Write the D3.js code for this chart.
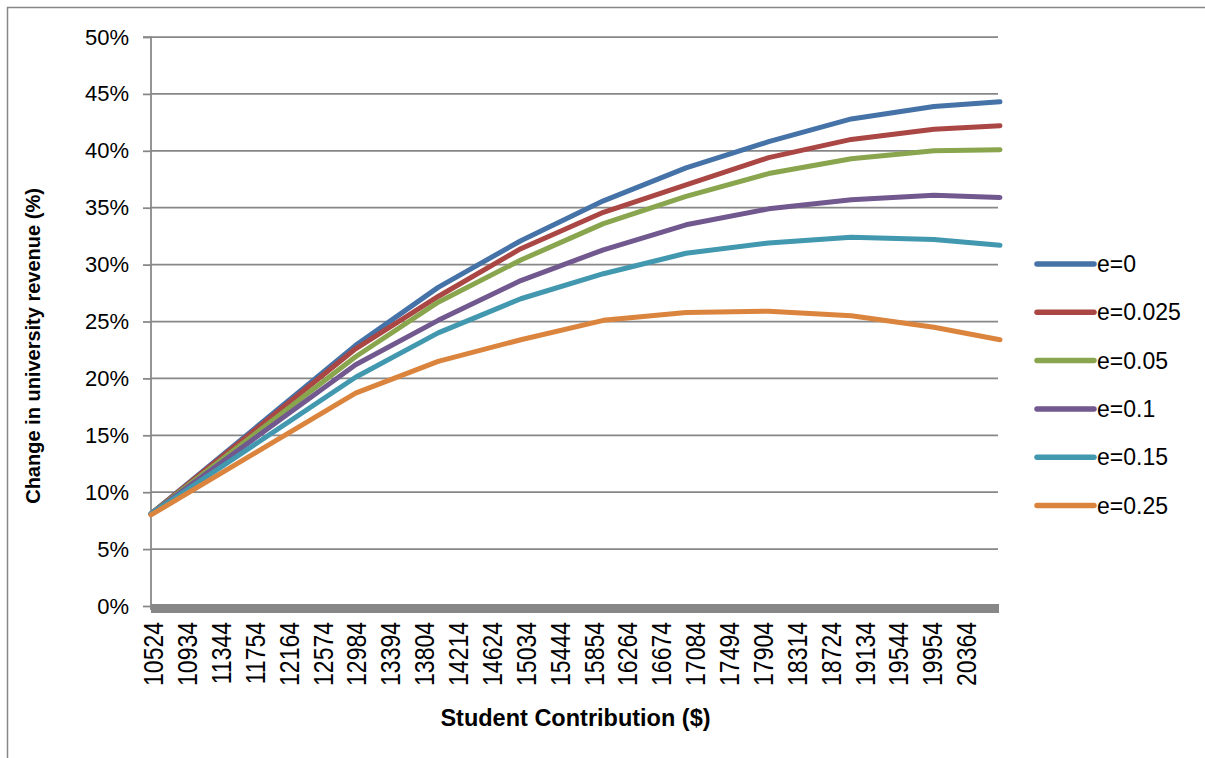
<!DOCTYPE html>
<html>
<head>
<meta charset="utf-8">
<script src="https://cdn.jsdelivr.net/npm/d3@7"></script>
<style>
  html, body { margin: 0; padding: 0; background: #ffffff; }
  svg { display: block; }
  text { font-family: "Liberation Sans", Arial, sans-serif; fill: #000; }
</style>
</head>
<body>
<svg id="chart" width="1205" height="758"></svg>
<script>
// Student contribution ($) at which revenue change was evaluated
const contribution = [10524, 13000, 14000, 15000, 16000, 17000, 18000, 19000, 20000, 20800];

// Change in university revenue (%) for each elasticity value e
const e0    = [8.1, 22.9, 28.0, 32.1, 35.6, 38.5, 40.8, 42.8, 43.9, 44.3];
const e0025 = [8.1, 22.6, 27.2, 31.4, 34.6, 37.0, 39.4, 41.0, 41.9, 42.2];
const e005  = [8.1, 21.9, 26.7, 30.4, 33.6, 36.0, 38.0, 39.3, 40.0, 40.1];
const e01   = [8.1, 21.2, 25.1, 28.6, 31.3, 33.5, 34.9, 35.7, 36.1, 35.9];
const e015  = [8.1, 20.1, 24.0, 27.0, 29.2, 31.0, 31.9, 32.4, 32.2, 31.7];
const e025  = [8.0, 18.7, 21.5, 23.4, 25.1, 25.8, 25.9, 25.5, 24.5, 23.4];

const seriesNames  = ["e=0", "e=0.025", "e=0.05", "e=0.1", "e=0.15", "e=0.25"];
const seriesValues = [e0, e0025, e005, e01, e015, e025];
const seriesColors = ["#4572A7", "#AA4643", "#89A54E", "#71588F", "#4198AF", "#DB843D"];

// Axis tick values
const xTicks = [10524, 10934, 11344, 11754, 12164, 12574, 12984, 13394, 13804, 14214,
                14624, 15034, 15444, 15854, 16264, 16674, 17084, 17494, 17904, 18314,
                18724, 19134, 19544, 19954, 20364];
const yTicks = [0, 5, 10, 15, 20, 25, 30, 35, 40, 45, 50];

const svg = d3.select("#chart");
const plot = { left: 151, right: 1000, top: 37, bottom: 606 };
const gridColor = "#878787";

// outer frame (top and left edges)
svg.append("path")
  .attr("d", "M7.5,758 L7.5,7.5 L1205,7.5")
  .attr("fill", "none").attr("stroke", gridColor).attr("stroke-width", 1.5);

const x = d3.scaleLinear().domain([10524, 20800]).range([plot.left, plot.right]);
const y = d3.scaleLinear().domain([0, 50]).range([plot.bottom, plot.top]);

// horizontal gridlines
svg.append("g")
  .selectAll("line").data(yTicks).join("line")
  .attr("x1", plot.left).attr("x2", plot.right - 2)
  .attr("y1", d => y(d)).attr("y2", d => y(d))
  .attr("stroke", gridColor).attr("stroke-width", 1.75);

// y axis with outside ticks
const yAxis = d3.axisLeft(y).tickValues(yTicks).tickSize(8).tickPadding(14)
  .tickFormat(d => d + "%");
const gy = svg.append("g").attr("transform", `translate(${plot.left},0)`).call(yAxis);
gy.select(".domain").attr("stroke", gridColor).attr("stroke-width", 1.75)
  .attr("d", `M-8,${plot.top}H0V${plot.bottom + 4}`);
gy.selectAll(".tick line").attr("stroke", gridColor).attr("stroke-width", 1.75);
gy.selectAll(".tick text").attr("font-size", 22).attr("font-family", "Liberation Sans, Arial, sans-serif")
  .attr("fill", "#000");

// thick category baseline
svg.append("rect")
  .attr("x", plot.left).attr("y", y(0) - 2)
  .attr("width", plot.right - plot.left - 1).attr("height", 9)
  .attr("fill", gridColor);

// x axis labels, rotated
const xAxis = d3.axisBottom(x).tickValues(xTicks).tickSize(0).tickFormat(d3.format("d"));
const gx = svg.append("g").attr("transform", `translate(0,${plot.bottom})`).call(xAxis);
gx.select(".domain").remove();
gx.selectAll(".tick text")
  .attr("font-size", 23).attr("font-family", "Liberation Sans, Arial, sans-serif").attr("fill", "#000")
  .attr("text-anchor", "end")
  .attr("transform", "translate(2,16) rotate(-90) scale(1,1.2)")
  .attr("x", 0).attr("y", 0).attr("dy", "0.35em");

// series lines
const line = d3.line().x((d, i) => x(contribution[i])).y(d => y(d));
svg.append("g").selectAll("path").data(seriesValues).join("path")
  .attr("d", d => line(d))
  .attr("fill", "none")
  .attr("stroke", (d, i) => seriesColors[i])
  .attr("stroke-width", 5)
  .attr("stroke-linejoin", "round")
  .attr("stroke-linecap", "round");

// legend
const legend = svg.append("g").attr("transform", "translate(1037,264)");
const item = legend.selectAll("g").data(seriesNames).join("g")
  .attr("transform", (d, i) => `translate(0,${i * 48.3})`);
item.append("line").attr("x1", 0).attr("x2", 57).attr("y1", 0).attr("y2", 0)
  .attr("stroke", (d, i) => seriesColors[i]).attr("stroke-width", 5.5).attr("stroke-linecap", "round");
item.append("text").attr("x", 60).attr("y", 0).attr("dy", "0.35em")
  .attr("font-size", 23).text(d => d);

// axis titles
svg.append("text")
  .attr("x", (plot.left + plot.right) / 2).attr("y", 726)
  .attr("text-anchor", "middle").attr("font-size", 23.5).attr("font-weight", "bold")
  .text("Student Contribution ($)");
svg.append("text")
  .attr("transform", "translate(40,346) rotate(-90)")
  .attr("text-anchor", "middle").attr("font-size", 20).attr("font-weight", "bold")
  .text("Change in university revenue (%)");
</script>
</body>
</html>
